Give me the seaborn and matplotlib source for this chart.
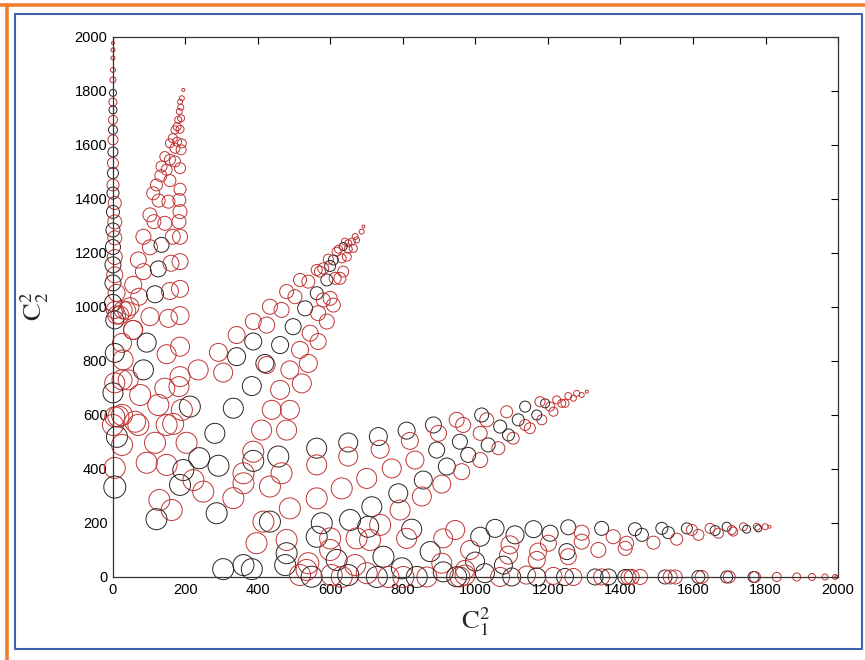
import numpy as np
import pandas as pd
import matplotlib
matplotlib.use("Agg")
import matplotlib.pyplot as plt
import seaborn as sns
from matplotlib.lines import Line2D

# Points: (C1^2, C2^2, weight, group)
# weight = relative circle radius, group 'a' = red set, 'b' = black set
branch_axis = [
    (0, 1978, 1.5, 'a'), (0, 1952, 2, 'a'), (0, 1922, 2, 'a'), (0, 1878, 2.5, 'a'),
    (0, 1841, 3, 'a'), (0, 1793, 3.5, 'b'), (0, 1759, 4, 'a'), (0, 1730, 4, 'b'),
    (0, 1693, 4.5, 'a'), (0, 1656, 4.5, 'b'), (0, 1619, 5, 'a'), (0, 1574, 5, 'b'),
    (0, 1533, 5.5, 'a'), (0, 1496, 5.5, 'b'), (0, 1452, 6, 'a'), (0, 1422, 6, 'b'),
    (5, 1385, 6.5, 'a'), (0, 1352, 6.5, 'b'), (5, 1315, 7, 'a'), (0, 1285, 7, 'b'),
    (5, 1256, 7, 'a'), (0, 1222, 7.5, 'b'), (5, 1185, 7.5, 'a'), (0, 1156, 8, 'b'),
    (5, 1119, 8, 'a'), (0, 1089, 8, 'b'), (10, 1052, 8.5, 'a'), (0, 1015, 8.5, 'b'),
    (10, 970, 9, 'a'), (5, 952, 9, 'b'), (5, 989, 8.5, 'a'), (28, 989, 9, 'a'),
    (55, 915, 9.5, 'a'), (25, 867, 9.5, 'a'), (5, 830, 9.5, 'b'), (28, 804, 10, 'a'),
    (5, 719, 10, 'a'), (25, 730, 10, 'a'), (0, 682, 10, 'b'), (5, 593, 10, 'a'),
    (25, 600, 10.5, 'a'), (0, 563, 10.5, 'a'), (11, 519, 10.5, 'b'), (25, 489, 10.5, 'a'),
    (5, 404, 10.5, 'a'), (5, 333, 11, 'b'),
]

branch_b = [
    (194, 1804, 1.5, 'a'), (190, 1773, 2.5, 'a'), (185, 1760, 2.5, 'a'), (187, 1740, 3, 'a'),
    (183, 1724, 3, 'a'), (188, 1699, 3.5, 'a'), (180, 1693, 3.5, 'a'), (177, 1668, 4, 'a'),
    (185, 1658, 4, 'a'), (171, 1656, 4, 'a'), (165, 1625, 4.5, 'a'), (177, 1612, 4.5, 'a'),
    (190, 1606, 4.5, 'a'), (157, 1606, 4.5, 'a'), (171, 1588, 5, 'a'), (188, 1582, 5, 'a'),
    (143, 1557, 5, 'a'), (157, 1545, 5.5, 'a'), (171, 1539, 5.5, 'a'), (185, 1514, 5.5, 'a'),
    (134, 1520, 5.5, 'a'), (148, 1508, 5.5, 'a'), (132, 1486, 6, 'a'), (157, 1468, 6, 'a'),
    (185, 1436, 6, 'a'), (120, 1452, 6, 'a'), (111, 1421, 6.5, 'a'), (126, 1394, 6.5, 'a'),
    (153, 1390, 6.5, 'a'), (183, 1396, 6.5, 'a'), (102, 1341, 7, 'a'), (113, 1316, 7, 'a'),
    (143, 1310, 7, 'a'), (185, 1353, 7, 'a'), (182, 1316, 7, 'a'), (84, 1260, 7.5, 'a'),
    (102, 1221, 7.5, 'a'), (134, 1230, 7.5, 'b'), (165, 1260, 7.5, 'a'), (185, 1260, 7.5, 'a'),
    (70, 1174, 8, 'a'), (84, 1131, 8, 'a'), (125, 1141, 8, 'b'), (160, 1162, 8, 'a'),
    (185, 1168, 8, 'a'), (56, 1082, 8.5, 'a'), (72, 1038, 8.5, 'a'), (116, 1047, 8.5, 'b'),
    (157, 1059, 8.5, 'a'), (185, 1067, 8.5, 'a'), (38, 986, 9, 'a'), (19, 970, 9, 'a'),
    (102, 964, 9, 'a'), (153, 958, 9, 'a'), (185, 968, 9, 'a'),
]

branch_low_left = [
    (47, 1001, 9, 'a'), (56, 915, 9.5, 'a'), (93, 868, 9.5, 'b'), (148, 825, 9.5, 'a'),
    (185, 853, 9.5, 'a'), (84, 767, 10, 'b'), (143, 699, 10, 'a'), (185, 742, 10, 'a'),
    (182, 705, 10, 'a'), (235, 767, 10, 'a'), (42, 730, 10, 'a'), (75, 674, 10.5, 'a'),
    (125, 637, 10.5, 'a'), (190, 619, 10.5, 'a'), (212, 631, 10.5, 'b'), (15, 594, 10.5, 'a'),
    (61, 575, 10.5, 'a'), (70, 563, 10.5, 'a'), (148, 563, 10.5, 'a'), (166, 567, 10.5, 'a'),
    (116, 497, 10.5, 'a'), (203, 497, 10.5, 'a'), (93, 423, 10.5, 'a'), (148, 415, 10.5, 'a'),
    (194, 396, 10.5, 'b'), (222, 359, 10.5, 'a'), (185, 341, 10.5, 'b'), (249, 316, 10.5, 'a'),
    (238, 440, 10.5, 'b'), (291, 412, 10.5, 'b'), (128, 285, 10.5, 'a'), (162, 248, 10.5, 'a'),
    (120, 214, 10.5, 'b'), (281, 532, 10, 'b'), (332, 625, 10, 'b'), (383, 707, 9.5, 'b'),
    (341, 816, 9, 'b'), (304, 757, 9.5, 'a'), (291, 832, 9, 'a'), (341, 896, 8.5, 'a'),
    (387, 872, 8.5, 'b'), (387, 946, 8, 'a'), (424, 933, 8, 'a'), (424, 785, 8.5, 'a'),
    (286, 236, 10.5, 'b'), (332, 292, 10.5, 'a'), (360, 347, 10.5, 'a'), (360, 384, 10.5, 'a'),
    (387, 430, 10.5, 'b'), (387, 464, 10.5, 'a'), (410, 544, 10, 'a'), (396, 125, 10.5, 'a'),
    (304, 29, 10.5, 'b'), (360, 44, 10.5, 'b'), (383, 29, 10.5, 'b'),
]

branch_c = [
    (691, 1298, 1.5, 'a'), (686, 1279, 2.5, 'a'), (668, 1261, 3, 'a'), (672, 1248, 3, 'a'),
    (659, 1242, 3.5, 'a'), (649, 1236, 3.5, 'a'), (640, 1242, 3.5, 'a'), (663, 1217, 4, 'a'),
    (649, 1214, 4, 'a'), (635, 1224, 4, 'b'), (622, 1214, 4, 'a'), (617, 1205, 4.5, 'a'),
    (645, 1186, 4.5, 'a'), (631, 1180, 4.5, 'a'), (608, 1174, 5, 'b'), (594, 1177, 5, 'a'),
    (580, 1143, 5.5, 'a'), (599, 1152, 5.5, 'b'), (635, 1131, 5.5, 'a'), (626, 1106, 6, 'a'),
    (613, 1106, 6, 'a'), (590, 1100, 6, 'b'), (571, 1131, 5.5, 'a'), (562, 1137, 5.5, 'a'),
    (516, 1100, 6.5, 'a'), (539, 1094, 6.5, 'a'), (562, 1051, 6.5, 'b'), (580, 1026, 7, 'a'),
    (599, 1032, 7, 'a'), (608, 1007, 7, 'a'), (479, 1057, 7, 'a'), (502, 1038, 7, 'a'),
    (530, 995, 7.5, 'b'), (566, 977, 7.5, 'a'), (590, 946, 7.5, 'a'), (433, 1001, 7.5, 'a'),
    (465, 989, 7.5, 'a'), (497, 927, 8, 'b'), (544, 903, 8, 'a'), (566, 872, 8, 'a'),
    (461, 859, 8.5, 'b'), (516, 841, 8.5, 'a'), (539, 791, 9, 'a'), (419, 791, 9, 'b'),
    (488, 767, 9, 'a'), (521, 717, 9.5, 'a'), (461, 693, 9.5, 'a'), (438, 619, 9.5, 'a'),
    (488, 619, 9.5, 'a'), (479, 544, 10, 'a'),
]

branch_d = [
    (562, 477, 10, 'b'), (562, 415, 10, 'a'), (649, 498, 9.5, 'b'), (649, 446, 9.5, 'a'),
    (732, 520, 9, 'b'), (737, 473, 9, 'a'), (810, 542, 8.5, 'b'), (819, 504, 8.5, 'a'),
    (884, 563, 8, 'b'), (898, 532, 8, 'a'), (948, 582, 7.5, 'a'), (893, 470, 8, 'b'),
    (921, 409, 8.5, 'b'), (833, 433, 9, 'a'), (769, 402, 9.5, 'a'), (700, 365, 10, 'a'),
    (631, 328, 10.5, 'a'), (562, 291, 10.5, 'a'), (488, 254, 10.5, 'a'), (433, 335, 10.5, 'a'),
    (456, 446, 10.5, 'b'), (465, 384, 10.5, 'a'), (856, 359, 9, 'b'), (907, 344, 9, 'a'),
    (787, 310, 9.5, 'b'), (852, 298, 9.5, 'a'), (714, 260, 10, 'b'), (792, 248, 10, 'a'),
    (737, 193, 10.5, 'a'), (654, 211, 10.5, 'b'), (576, 199, 10.5, 'b'), (415, 205, 10.5, 'a'),
    (433, 205, 10.5, 'b'), (479, 137, 10.5, 'a'), (562, 149, 10.5, 'b'), (599, 143, 10.5, 'a'),
    (672, 143, 10.5, 'a'), (709, 137, 10.5, 'a'), (704, 186, 10.5, 'b'), (824, 177, 10, 'b'),
    (810, 143, 10, 'a'), (911, 143, 9.5, 'a'), (944, 174, 9.5, 'a'), (479, 88, 10.5, 'b'),
    (475, 44, 10.5, 'b'), (539, 51, 10.5, 'a'), (534, 26, 10.5, 'a'), (599, 100, 10.5, 'a'),
    (617, 63, 10.5, 'b'), (746, 75, 10.5, 'b'), (668, 44, 10.5, 'a'), (875, 94, 10, 'b'),
    (907, 51, 10, 'a'),
    (1307, 686, 1.5, 'a'), (1293, 674, 2.5, 'a'), (1279, 680, 3, 'a'), (1270, 662, 3, 'a'),
    (1256, 670, 3.5, 'a'), (1247, 643, 4, 'a'), (1238, 643, 4, 'a'), (1224, 656, 4, 'a'),
    (1215, 612, 4.5, 'a'), (1206, 631, 4.5, 'a'), (1192, 643, 4.5, 'b'), (1178, 649, 5, 'a'),
    (1183, 582, 5, 'a'), (1169, 600, 5, 'b'), (1150, 551, 5.5, 'a'), (1137, 631, 5.5, 'b'),
    (1137, 563, 5.5, 'a'), (1118, 582, 6, 'b'), (1104, 514, 6, 'a'), (1086, 612, 6, 'a'),
    (1091, 526, 6, 'b'), (1068, 557, 6.5, 'b'), (1063, 477, 6.5, 'a'), (1035, 489, 7, 'b'),
    (1031, 582, 7, 'a'), (1017, 600, 7, 'b'), (1013, 532, 7, 'a'), (1013, 433, 7.5, 'a'),
    (980, 452, 7.5, 'b'), (957, 501, 7.5, 'b'), (966, 563, 7.5, 'a'), (962, 390, 8, 'a'),
]

branch_e = [
    (1013, 149, 9.5, 'b'), (1054, 180, 9, 'b'), (1109, 156, 9, 'b'), (1160, 177, 8.5, 'b'),
    (1206, 162, 8, 'b'), (1201, 125, 8, 'a'), (1256, 184, 7.5, 'b'), (1293, 164, 7.5, 'a'),
    (1293, 131, 7.5, 'a'), (1348, 180, 7, 'b'), (1380, 149, 7, 'a'), (1417, 125, 7, 'a'),
    (1095, 119, 9, 'a'), (1091, 81, 9, 'a'), (1077, 44, 9, 'b'), (985, 100, 9.5, 'a'),
    (999, 57, 9.5, 'b'), (971, 26, 9.5, 'a'), (1173, 94, 8.5, 'a'), (1169, 63, 8.5, 'a'),
    (1252, 94, 8, 'b'), (1256, 75, 8, 'a'), (1339, 100, 7.5, 'a'),
    (1413, 106, 7, 'a'), (1440, 177, 6.5, 'b'), (1459, 156, 6.5, 'b'), (1491, 127, 6.5, 'a'),
    (1514, 180, 6, 'b'), (1532, 164, 6, 'b'), (1555, 140, 6, 'a'), (1583, 180, 5.5, 'b'),
    (1597, 174, 5.5, 'a'), (1615, 156, 5.5, 'a'), (1647, 180, 5, 'a'), (1661, 172, 5, 'b'),
    (1670, 162, 5, 'a'), (1693, 186, 4.5, 'b'), (1707, 174, 4.5, 'a'), (1711, 168, 4.5, 'a'),
    (1739, 186, 4, 'a'), (1748, 177, 4, 'b'), (1776, 186, 3.5, 'a'), (1780, 180, 3.5, 'b'),
    (1799, 186, 3, 'a'), (1811, 186, 1.5, 'a'),
]

branch_floor = [
    (516, 7, 10.5, 'a'), (548, 1, 10.5, 'b'), (603, 7, 10.5, 'a'), (631, 0, 10.5, 'a'),
    (649, 7, 10.5, 'b'), (700, 14, 10.5, 'a'), (728, 0, 10.5, 'b'), (760, 0, 10.5, 'a'),
    (797, 32, 10.5, 'b'), (801, 0, 10.5, 'a'), (838, 0, 10.5, 'b'), (866, 0, 10, 'a'),
    (911, 19, 10, 'b'), (957, 0, 10, 'a'), (948, 1, 10, 'b'), (971, 7, 10, 'a'),
    (1026, 14, 9.5, 'b'), (1068, 0, 9.5, 'a'), (1100, 0, 9, 'b'), (1141, 7, 9, 'a'),
    (1169, 0, 9, 'b'), (1215, 4, 8.5, 'a'), (1247, 0, 8.5, 'b'), (1270, 0, 8.5, 'a'),
    (1330, 0, 8, 'b'), (1348, 0, 8, 'a'), (1367, 0, 8, 'b'), (1422, 0, 7.5, 'a'),
    (1413, 0, 7.5, 'b'), (1431, 0, 7.5, 'a'), (1454, 0, 7.5, 'a'), (1523, 0, 7, 'b'),
    (1537, 0, 7, 'a'), (1551, 0, 7, 'a'), (1615, 0, 6.5, 'b'), (1624, 0, 6.5, 'a'),
    (1693, 0, 6, 'b'), (1700, 0, 6, 'a'), (1767, 0, 5.5, 'b'), (1771, 0, 5.5, 'a'),
    (1831, 0, 4.5, 'a'), (1886, 0, 4, 'a'), (1928, 0, 3.5, 'a'), (1964, 0, 3, 'a'),
    (1992, 0, 2.5, 'a'), (1996, 0, 1.5, 'a'),
]

ticks = np.arange(0, 2001, 200)
palette = {'a': '#c03434', 'b': '#2e2222'}

rows = (branch_axis + branch_b + branch_low_left + branch_c
        + branch_d + branch_e + branch_floor)
df = pd.DataFrame(rows, columns=['c1', 'c2', 'weight', 'group'])
df['area'] = df['weight'] ** 2

sns.set_style('white')
plt.rcParams['font.family'] = ['Liberation Sans', 'DejaVu Sans']
plt.rcParams['mathtext.fontset'] = 'stix'

fig = plt.figure(figsize=(8.65, 6.6), dpi=100)
ax = fig.add_axes([0.1306, 0.1258, 0.8382, 0.8182])

sns.scatterplot(data=df, x='c1', y='c2', hue='group', size='area',
                palette=palette, sizes=(0, 251), size_norm=(0, 121),
                legend=False, ax=ax, clip_on=False)

# hollow circles like the original
pts = ax.collections[0]
pts.set_edgecolors(pts.get_facecolors())
pts.set_facecolors('none')
pts.set_linewidths(0.7)

ax.set_xlim(0, 2000)
ax.set_ylim(0, 2000)
ax.set_xticks(ticks)
ax.set_yticks(ticks)
ax.tick_params(direction='in', top=True, right=True, length=5, width=0.8,
               labelsize=10.5, pad=4, colors='black')
for sp in ax.spines.values():
    sp.set_color('#333333')
    sp.set_linewidth(0.9)

ax.set_xlabel(r'$\mathrm{C}_1^2$', fontsize=19, labelpad=6)
ax.set_ylabel(r'$\mathrm{C}_2^2$', fontsize=19, labelpad=17)

# page frame (orange outer, blue inner)
orange = '#ee7f30'
blue = '#3f62ad'
fig.add_artist(Line2D([0.0, 1.0], [0.9917, 0.9917], transform=fig.transFigure,
                      color=orange, lw=2.6))
fig.add_artist(Line2D([0.0081, 0.0081], [0.0, 0.9917], transform=fig.transFigure,
                      color=orange, lw=2.6))
fig.add_artist(Line2D([0.0168, 0.9965, 0.9965, 0.0168, 0.0168],
                      [0.9795, 0.9795, 0.017, 0.017, 0.9795],
                      transform=fig.transFigure, color=blue, lw=1.5))

fig.savefig('out.png', dpi=100)
